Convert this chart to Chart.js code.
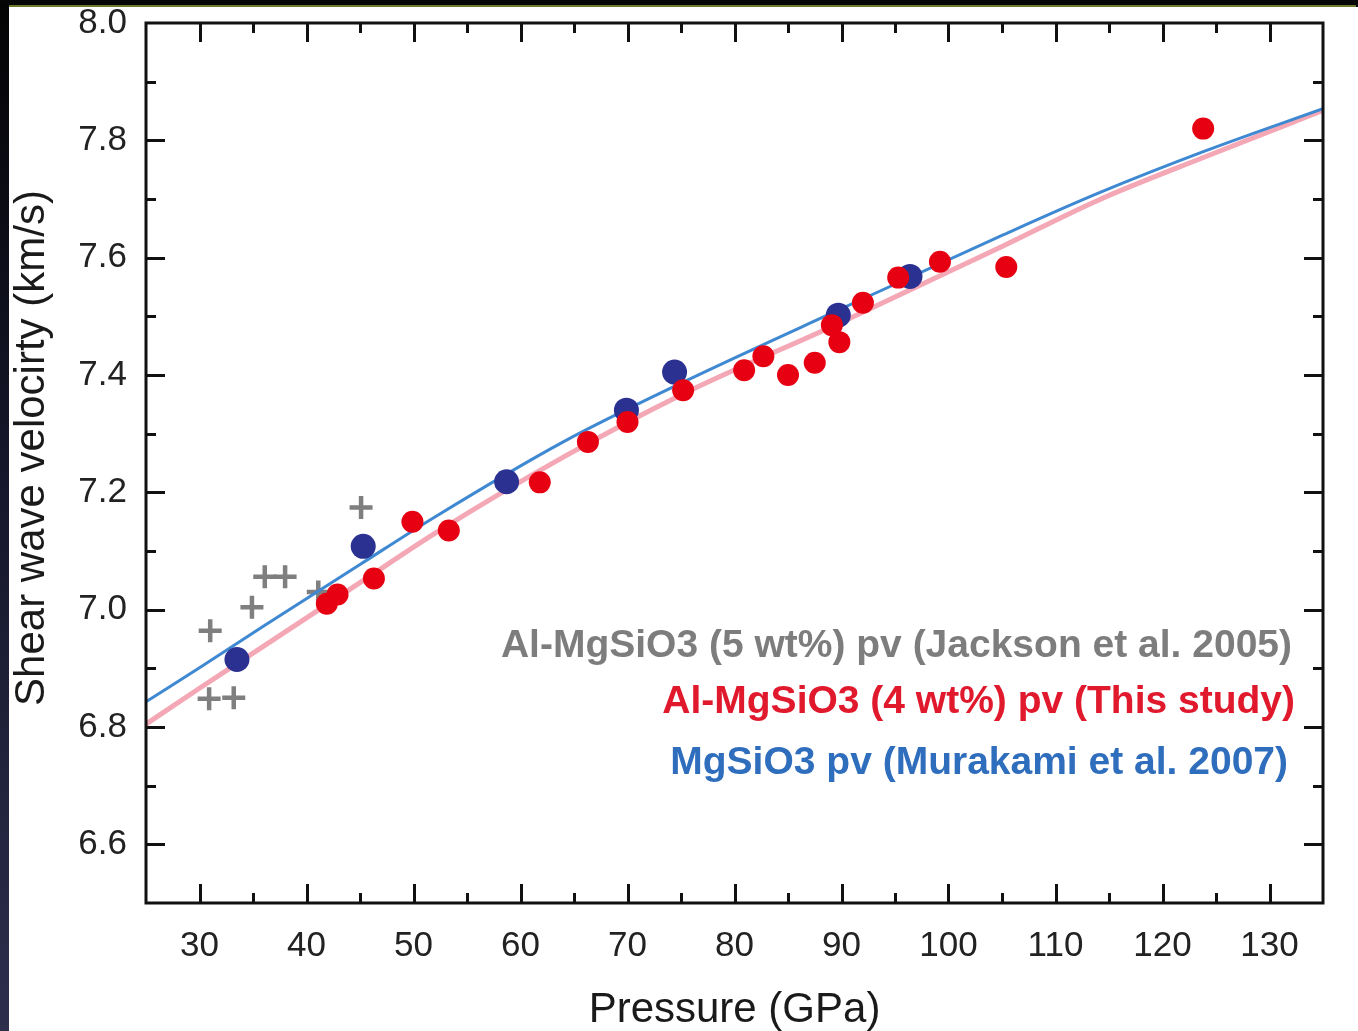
<!DOCTYPE html>
<html>
<head>
<meta charset="utf-8">
<title>Shear wave velocity vs pressure</title>
<script src="https://cdn.jsdelivr.net/npm/chart.js@4.4.1/dist/chart.umd.min.js"></script>
<style>
  html, body { margin: 0; padding: 0; }
  body {
    width: 1358px; height: 1031px; overflow: hidden; position: relative;
    background: linear-gradient(to bottom, #040404 0%, #15162a 45%, #2c2e4c 100%);
  }
  #topband { position: absolute; left: 0; top: 0; width: 1358px; height: 5px; background: #050505; }
  #olive { position: absolute; left: 9px; top: 5px; width: 1347px; height: 2px; background: #6b7a2c; }
  #wrap { position: absolute; left: 9px; top: 7px; width: 1349px; height: 1024px; background: #fff; }
  canvas { display: block; }
</style>
</head>
<body>
<div id="topband"></div>
<div id="olive"></div>
<div id="wrap"><canvas id="vsChart" width="1349" height="1024"></canvas></div>
<script>
// Al-MgSiO3 (5 wt%) pv, Jackson et al. 2005 (grey crosses)
const jacksonP  = [31.0, 34.9, 36.1, 38.0, 41.1, 45.1, 30.9, 33.2];
const jacksonVs = [6.964, 7.004, 7.056, 7.056, 7.030, 7.174, 6.848, 6.850];

// Al-MgSiO3 (4 wt%) pv, this study (red dots)
const thisStudyP  = [41.9, 42.9, 46.3, 49.9, 53.3, 61.8, 66.3, 70.0, 75.2, 80.9,
                     82.7, 85.0, 87.5, 89.1, 89.8, 92.0, 95.3, 99.2, 105.4, 123.8];
const thisStudyVs = [7.010, 7.026, 7.053, 7.150, 7.135, 7.217, 7.286, 7.320, 7.374, 7.408,
                     7.432, 7.400, 7.421, 7.485, 7.456, 7.523, 7.566, 7.593, 7.584, 7.820];

// MgSiO3 pv, Murakami et al. 2007 (blue dots)
const murakamiP  = [33.5, 45.3, 58.7, 69.9, 74.4, 89.7, 96.4];
const murakamiVs = [6.915, 7.108, 7.218, 7.340, 7.405, 7.502, 7.568];

// fitted curves
const fitP           = [25, 30, 36, 45, 52, 64, 75, 90, 105, 114, 124, 135];
const fitMurakamiVs  = [6.843, 6.901, 6.972, 7.077, 7.158, 7.286, 7.386, 7.513, 7.638, 7.710, 7.782, 7.854];
const fitThisStudyVs = [6.805, 6.866, 6.938, 7.046, 7.130, 7.260, 7.366, 7.490, 7.619, 7.698, 7.772, 7.851];

const xTickLabels = [30, 40, 50, 60, 70, 80, 90, 100, 110, 120, 130];
const yTickLabels = ['6.6', '6.8', '7.0', '7.2', '7.4', '7.6', '7.8', '8.0'];

const legendLabels = [
    'Al-MgSiO3 (5 wt%) pv (Jackson et al. 2005)',
    'Al-MgSiO3 (4 wt%) pv (This study)',
    'MgSiO3 pv (Murakami et al. 2007)'
];
const legendColors = ['#7d7d7d', '#e0192c', '#2f6dbd'];

const yTitle = 'Shear wave velocirty (km/s)';

const FONT = '"Liberation Sans", Arial, Helvetica, sans-serif';

function toXY(xs, ys) {
    return xs.map((x, i) => ({ x: x, y: ys[i] }));
}

// frame with inward major/minor ticks on all four sides
const frameTicks = {
    id: 'frameTicks',
    afterDatasetsDraw(chart) {
        const { ctx, chartArea: a, scales: { x, y } } = chart;
        ctx.save();
        ctx.strokeStyle = '#111';
        ctx.lineWidth = 3;
        ctx.beginPath();
        x.ticks.forEach(t => {
            if (t.value <= x.min || t.value >= x.max) return;
            const px = Math.round(x.getPixelForValue(t.value)) + 0.5;
            const len = Math.round(t.value) % 10 === 0 ? 19 : 10;
            ctx.moveTo(px, a.bottom); ctx.lineTo(px, a.bottom - len);
            ctx.moveTo(px, a.top); ctx.lineTo(px, a.top + len);
        });
        y.ticks.forEach(t => {
            if (t.value <= y.min + 1e-6 || t.value >= y.max - 1e-6) return;
            const py = Math.round(y.getPixelForValue(t.value)) + 0.5;
            const len = Math.round(t.value * 10) % 2 === 0 ? 19 : 10;
            ctx.moveTo(a.left, py); ctx.lineTo(a.left + len, py);
            ctx.moveTo(a.right, py); ctx.lineTo(a.right - len, py);
        });
        ctx.stroke();
        ctx.strokeRect(a.left, a.top, a.right - a.left, a.bottom - a.top);
        ctx.restore();
    }
};

// coloured text legend inside the plot, plus the rotated y title
const legendText = {
    id: 'legendText',
    afterDraw(chart) {
        const { ctx, chartArea: a } = chart;
        const rightInset = [31, 28, 35];
        const baseline = [634, 690, 751];
        ctx.save();
        ctx.font = 'bold 39px ' + FONT;
        ctx.textAlign = 'right';
        ctx.textBaseline = 'alphabetic';
        legendLabels.forEach((t, i) => {
            ctx.fillStyle = legendColors[i];
            ctx.fillText(t, a.right - rightInset[i], a.top + baseline[i]);
        });
        ctx.restore();

        ctx.save();
        ctx.translate(23, (a.top + a.bottom) / 2 - 15);
        ctx.rotate(-Math.PI / 2);
        ctx.font = '42px ' + FONT;
        ctx.fillStyle = '#1a1a1a';
        ctx.textAlign = 'center';
        ctx.textBaseline = 'middle';
        ctx.fillText(yTitle, 0, 0);
        ctx.restore();
    }
};

const ctx = document.getElementById('vsChart').getContext('2d');

new Chart(ctx, {
    type: 'scatter',
    data: {
        datasets: [
            {
                label: legendLabels[1],
                data: toXY(thisStudyP, thisStudyVs),
                pointRadius: 11,
                pointBackgroundColor: '#e60012',
                pointBorderWidth: 0
            },
            {
                label: legendLabels[2],
                data: toXY(murakamiP, murakamiVs),
                pointRadius: 12.5,
                pointBackgroundColor: '#2a3190',
                pointBorderWidth: 0
            },
            {
                label: 'Murakami fit',
                data: toXY(fitP, fitMurakamiVs),
                showLine: true,
                borderColor: '#3f88d2',
                borderWidth: 3,
                pointRadius: 0,
                cubicInterpolationMode: 'monotone'
            },
            {
                label: 'This study fit',
                data: toXY(fitP, fitThisStudyVs),
                showLine: true,
                borderColor: '#f4a7b5',
                borderWidth: 5,
                pointRadius: 0,
                cubicInterpolationMode: 'monotone'
            },
            {
                label: legendLabels[0],
                data: toXY(jacksonP, jacksonVs),
                pointStyle: 'cross',
                pointRadius: 11.5,
                pointBorderColor: '#7f7f7f',
                pointBorderWidth: 4.5
            }
        ]
    },
    options: {
        responsive: false,
        animation: false,
        layout: {
            padding: { top: 16, right: 35, left: 0, bottom: 0 }
        },
        scales: {
            x: {
                type: 'linear',
                position: 'bottom',
                min: 25,
                max: 135,
                afterFit: s => { s.height = 128; s.paddingLeft = 0; s.paddingRight = 0; },
                grid: { display: false, drawTicks: false },
                border: { display: false },
                ticks: {
                    stepSize: 5,
                    autoSkip: false,
                    maxRotation: 0,
                    padding: 26,
                    color: '#222',
                    font: { size: 35, family: FONT, lineHeight: 1 },
                    callback: v => xTickLabels.includes(v) ? String(v) : ''
                },
                title: {
                    display: true,
                    text: 'Pressure (GPa)',
                    color: '#1a1a1a',
                    font: { size: 42, family: FONT, lineHeight: 1 },
                    padding: { top: 0, bottom: 0 }
                }
            },
            y: {
                type: 'linear',
                position: 'left',
                min: 6.5,
                max: 8.0,
                afterFit: s => { s.width = 137; s.paddingTop = 0; s.paddingBottom = 0; },
                grid: { display: false, drawTicks: false },
                border: { display: false },
                ticks: {
                    stepSize: 0.1,
                    autoSkip: false,
                    padding: 19,
                    color: '#222',
                    font: { size: 35, family: FONT, lineHeight: 1 },
                    callback: v => {
                        const s = v.toFixed(1);
                        return yTickLabels.includes(s) ? s : '';
                    }
                }
            }
        },
        plugins: {
            legend: { display: false },
            tooltip: { enabled: false }
        }
    },
    plugins: [frameTicks, legendText]
});
</script>
</body>
</html>
